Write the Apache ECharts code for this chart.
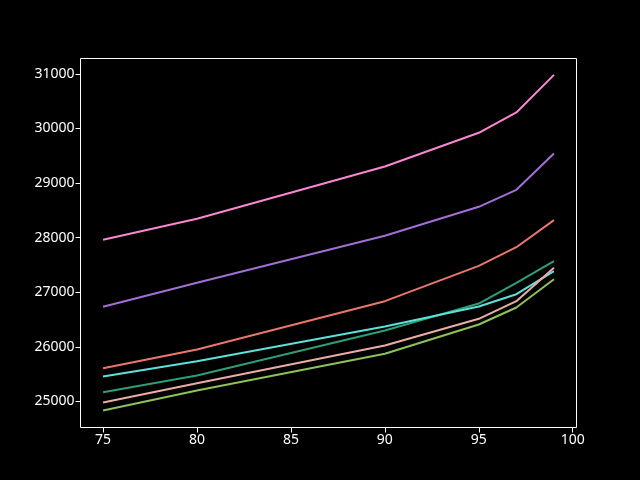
<!DOCTYPE html>
<html>
<head>
<meta charset="utf-8">
<style>
html,body{margin:0;padding:0;background:#000;}
#chart{width:640px;height:480px;}
</style>
<script src="https://cdn.jsdelivr.net/npm/echarts@6/dist/echarts.min.js"></script>
</head>
<body>
<div id="chart"></div>
<script>
const xValues = [75, 80, 90, 95, 97, 99];
const pinkLine   = [27961, 28345, 29303, 29920, 30292, 30980];
const purpleLine = [26734, 27173, 28034, 28565, 28876, 29541];
const salmonLine = [25610, 25952, 26837, 27484, 27825, 28320];
const tealLine   = [25171, 25476, 26300, 26794, 27173, 27569];
const cyanLine   = [25458, 25738, 26373, 26739, 26965, 27386];
const peachLine  = [24982, 25335, 26025, 26514, 26837, 27447];
const oliveLine  = [24835, 25201, 25873, 26410, 26721, 27239];
const xTicks = [75, 80, 85, 90, 95, 100];
const yTicks = [25000, 26000, 27000, 28000, 29000, 30000, 31000];

const seriesDefs = [
  {name: 'a', data: pinkLine,   color: '#f987d2'},
  {name: 'b', data: purpleLine, color: '#a36fd6'},
  {name: 'c', data: salmonLine, color: '#ea766c'},
  {name: 'd', data: tealLine,   color: '#2c9f78'},
  {name: 'e', data: cyanLine,   color: '#5ee0da'},
  {name: 'f', data: peachLine,  color: '#e9ada6'},
  {name: 'g', data: oliveLine,  color: '#8fc15a'}
];

const chart = echarts.init(document.getElementById('chart'), null, {renderer: 'canvas'});
const font = {color: '#ffffff', fontFamily: 'Noto Sans', fontSize: 14};
chart.setOption({
  backgroundColor: '#000000',
  animation: false,
  grid: {left: 80.5, right: 63.5, top: 58.5, bottom: 52.5, show: true, borderColor: '#ffffff', borderWidth: 1, backgroundColor: 'transparent'},
  xAxis: {
    type: 'value', min: 73.8, max: 100.2,
    axisLine: {show: false},
    splitLine: {show: false},
    axisTick: {show: true, inside: false, length: 5, lineStyle: {color: '#ffffff'}, customValues: xTicks},
    axisLabel: Object.assign({margin: 6, customValues: xTicks, formatter: v => String(v)}, font)
  },
  yAxis: {
    type: 'value', min: 24524, max: 31280,
    axisLine: {show: false},
    splitLine: {show: false},
    axisTick: {show: true, inside: false, length: 5, lineStyle: {color: '#ffffff'}, customValues: yTicks},
    axisLabel: Object.assign({margin: 6, customValues: yTicks, formatter: v => String(v)}, font)
  },
  series: seriesDefs.map(s => ({
    type: 'line', name: s.name,
    data: xValues.map((x, i) => [x, s.data[i]]),
    showSymbol: false, symbol: 'none',
    lineStyle: {color: s.color, width: 2},
    itemStyle: {color: s.color}
  }))
});
</script>
</body>
</html>
